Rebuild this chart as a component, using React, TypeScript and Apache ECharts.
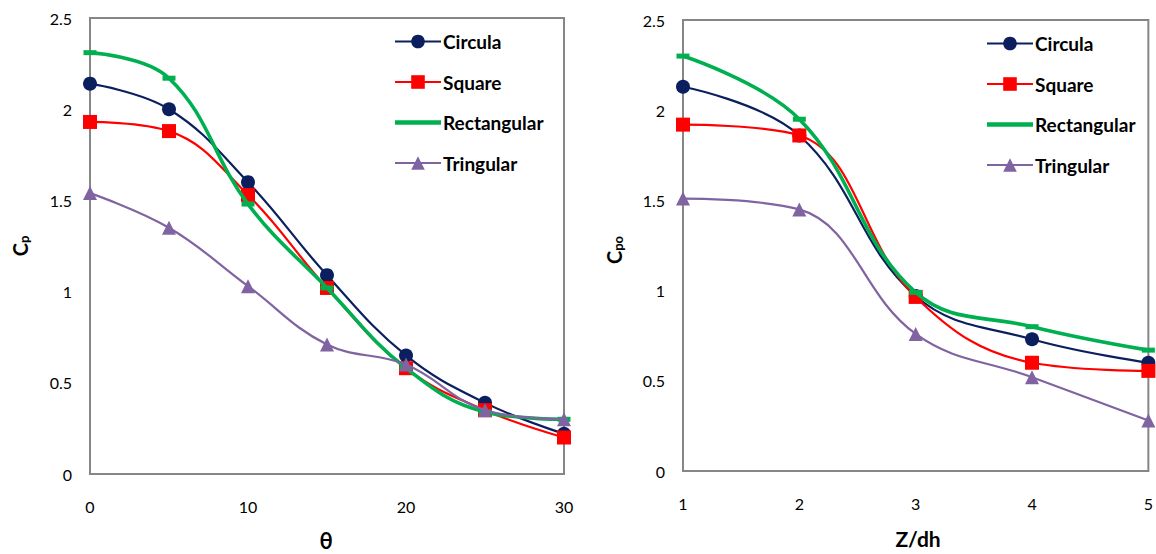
import React, { useEffect, useRef } from "react";
import * as echarts from "echarts";

const seriesNames = ["Circula", "Square", "Rectangular", "Tringular"];
const colors = ["#0B1F5E", "#FF0000", "#00B050", "#8064A2"];

const thetaValues = [0, 5, 10, 15, 20, 25, 30];
const cpCircula = [2.14, 2.0, 1.6, 1.09, 0.65, 0.39, 0.22];
const cpSquare = [1.93, 1.88, 1.53, 1.02, 0.58, 0.35, 0.2];
const cpRectangular = [2.31, 2.17, 1.48, 1.02, 0.58, 0.34, 0.3];
const cpTringular = [1.54, 1.35, 1.03, 0.71, 0.6, 0.35, 0.3];

const zdhValues = [1, 2, 3, 4, 5];
const cpoCircula = [2.13, 1.86, 0.97, 0.73, 0.6];
const cpoSquare = [1.92, 1.86, 0.965, 0.6, 0.555];
const cpoRectangular = [2.3, 1.95, 0.99, 0.8, 0.67];
const cpoTringular = [1.51, 1.45, 0.76, 0.52, 0.28];

const symbols: any[] = ["circle", "rect", "rect", "triangle"];
const symbolSizes: any[] = [14, 14, [13, 5], 14];
const lineWidths = [2.2, 2.2, 3.6, 2.2];

const FONT = "Lato, 'Open Sans', sans-serif";

function makeSeries(xs: number[], ys: number[][], axisIndex: number) {
  return ys.map((vals, i) => ({
    name: seriesNames[i],
    type: "line",
    xAxisIndex: axisIndex,
    yAxisIndex: axisIndex,
    data: xs.map((x, j) => [x, vals[j]]),
    smooth: 0.4,
    symbol: symbols[i],
    symbolSize: symbolSizes[i],
    showSymbol: true,
    color: colors[i],
    lineStyle: { width: lineWidths[i], color: colors[i] },
    itemStyle: { color: colors[i] },
    z: 2 + i,
  }));
}

export default function App() {
  const ref = useRef<HTMLDivElement>(null);
  useEffect(() => {
    if (!ref.current) return;
    const chart = echarts.init(ref.current, undefined, { renderer: "svg" });
    const axisLabel = { color: "#000", fontSize: 16, fontFamily: FONT };
    const yAxisBase = {
      type: "value",
      min: 0,
      max: 2.5,
      interval: 0.5,
      axisLine: { show: false },
      axisTick: { show: false },
      splitLine: { show: false },
      axisLabel: { ...axisLabel, margin: 18 },
    };
    const xAxisBase = {
      type: "value",
      axisLine: { show: false },
      axisTick: { show: false },
      splitLine: { show: false },
      axisLabel: { ...axisLabel, margin: 24 },
    };
    const legendData = seriesNames.map((n) =>
      n === "Rectangular" ? { name: n, icon: "path://M0,0H46V4.5H0Z" } : { name: n }
    );
    const legendBase = {
      orient: "vertical",
      itemWidth: 46,
      itemHeight: 17,
      itemGap: 21.5,
      padding: 0,
      symbolKeepAspect: true,
      data: legendData,
      textStyle: { color: "#000", fontSize: 19, fontWeight: "bold", fontFamily: FONT, padding: [0, 0, 0, -3] },
    };
    chart.setOption({
      animation: false,
      backgroundColor: "#fff",
      grid: [
        { left: 90, top: 18, width: 474, height: 456, show: true, borderColor: "#868686", borderWidth: 2, backgroundColor: "transparent" },
        { left: 683, top: 20, width: 467, height: 451, show: true, borderColor: "#868686", borderWidth: 2, backgroundColor: "transparent" },
      ],
      xAxis: [
        { ...xAxisBase, gridIndex: 0, min: 0, max: 30, interval: 10 },
        { ...xAxisBase, gridIndex: 1, min: 1, max: 5, interval: 1 },
      ],
      yAxis: [
        { ...yAxisBase, gridIndex: 0 },
        { ...yAxisBase, gridIndex: 1 },
      ],
      legend: [
        { ...legendBase, left: 394, top: 32 },
        { ...legendBase, left: 986, top: 34 },
      ],
      graphic: [
        {
          type: "text",
          x: 326,
          y: 540,
          style: { text: "θ", fontSize: 22, fontWeight: "bold", fontFamily: FONT, fill: "#000", align: "center", verticalAlign: "middle" },
        },
        {
          type: "text",
          x: 918,
          y: 538,
          style: { text: "Z/dh", fontSize: 21, fontWeight: "bold", fontFamily: FONT, fill: "#000", align: "center", verticalAlign: "middle" },
        },
        {
          type: "text",
          x: 20,
          y: 246,
          rotation: Math.PI / 2,
          style: {
            text: "{a|C}{b|p}",
            align: "center",
            verticalAlign: "middle",
            rich: {
              a: { fontSize: 20, fontWeight: "bold", fontFamily: FONT, fill: "#000", color: "#000" },
              b: { fontSize: 13, fontWeight: "bold", fontFamily: FONT, fill: "#000", color: "#000", padding: [8, 0, 0, 0] },
            },
          },
        },
        {
          type: "text",
          x: 614,
          y: 250,
          rotation: Math.PI / 2,
          style: {
            text: "{a|C}{b|po}",
            align: "center",
            verticalAlign: "middle",
            rich: {
              a: { fontSize: 20, fontWeight: "bold", fontFamily: FONT, fill: "#000", color: "#000" },
              b: { fontSize: 13, fontWeight: "bold", fontFamily: FONT, fill: "#000", color: "#000", padding: [8, 0, 0, 0] },
            },
          },
        },
      ],
      series: [
        ...makeSeries(thetaValues, [cpCircula, cpSquare, cpRectangular, cpTringular], 0),
        ...makeSeries(zdhValues, [cpoCircula, cpoSquare, cpoRectangular, cpoTringular], 1),
      ],
    });
    return () => chart.dispose();
  }, []);
  return (
    <div
      ref={ref}
      style={{ position: "fixed", left: 0, top: 0, width: 1156, height: 554, background: "#fff" }}
    />
  );
}
